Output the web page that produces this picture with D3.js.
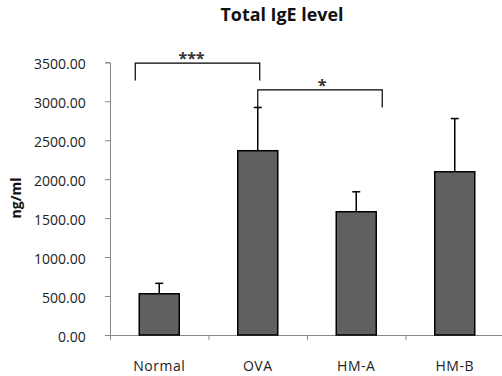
<!DOCTYPE html>
<html><head><meta charset="utf-8">
<script src="https://cdn.jsdelivr.net/npm/d3@7"></script>
<style>body{margin:0;background:#fff}svg{display:block}text{font-family:"Open Sans","Noto Sans",sans-serif}</style>
</head><body><svg id="c" width="502" height="376"></svg>
<script>
const categories = ["Normal","OVA","HM-A","HM-B"];
const means = [529, 2365, 1582, 2095];
const errors = [134, 555, 256, 683];
const yTicks = [0,500,1000,1500,2000,2500,3000,3500];
const brackets = [
  {from:"Normal", to:"OVA", top:3490, leg:3265, label:"***"},
  {from:"OVA", to:"HM-A", top:3145, leg:2920, label:"*"}
];

const svg = d3.select("#c");
const x = d3.scaleBand().domain(categories).range([110,504]).paddingInner(0).paddingOuter(0);
const y = d3.scaleLinear().domain([0,3500]).range([335,62.3]);
const bw = 40;
const FONT = "'Open Sans','Noto Sans',sans-serif";

const title = svg.append("text").attr("x",282).attr("y",21).attr("text-anchor","middle")
  .attr("font-size",16).attr("font-weight","bold").attr("fill","#111").text("Total IgE level");
const tl = title.node().getComputedTextLength();
title.attr("font-size", 16*123/tl);

// axes
const ya = svg.append("g").attr("transform","translate(110,0)")
  .call(d3.axisLeft(y).tickValues(yTicks).tickSize(5).tickPadding(5).tickFormat(d3.format(".2f")));
ya.select(".domain").attr("stroke","#888");
ya.selectAll(".tick line").attr("stroke","#888");
ya.selectAll("text").attr("font-size",14).attr("fill","#222")
  .attr("font-family",FONT).attr("x",-24.3).attr("dy",0).attr("y",6.6);

const xa = svg.append("g").attr("transform","translate(0,335)")
  .call(d3.axisBottom(x).tickSize(0));
xa.select(".domain").attr("stroke","#888");
xa.selectAll("text").attr("font-size",14).attr("fill","#222").attr("letter-spacing",0.5)
  .attr("font-family",FONT).attr("dy",0).attr("y",36);
// boundary ticks
const bounds = categories.map(c=>x(c));
xa.selectAll(".bt").data(bounds).enter().append("line").attr("class","bt")
  .attr("x1",d=>d+0.5).attr("x2",d=>d+0.5).attr("y1",0).attr("y2",5).attr("stroke","#888");

svg.append("text").attr("transform","translate(21,198) rotate(-90)").attr("text-anchor","middle")
  .attr("font-size",14).attr("font-weight","bold").attr("fill","#111").text("ng/ml");

// error bars
const eb = svg.append("g");
categories.forEach((c,i)=>{
  const cx = x(c)+x.bandwidth()/2;
  eb.append("line").attr("x1",cx).attr("x2",cx).attr("y1",y(means[i])).attr("y2",y(means[i]+errors[i]))
    .attr("stroke","#000").attr("stroke-width",1.5);
  eb.append("line").attr("x1",cx-4).attr("x2",cx+4).attr("y1",y(means[i]+errors[i])).attr("y2",y(means[i]+errors[i]))
    .attr("stroke","#000").attr("stroke-width",1.5);
});
// bars
svg.append("g").selectAll("rect").data(categories).enter().append("rect")
  .attr("x",c=>x(c)+x.bandwidth()/2-bw/2).attr("width",bw)
  .attr("y",(c,i)=>y(means[i])).attr("height",(c,i)=>y(0)-y(means[i]))
  .attr("fill","#606060").attr("stroke","#000").attr("stroke-width",1.5);

// significance brackets
const bg = svg.append("g");
const offs = [[-24,2],[0,26]];
brackets.forEach((b,i)=>{
  const x1 = x(b.from)+x.bandwidth()/2+offs[i][0];
  const x2 = x(b.to)+x.bandwidth()/2+offs[i][1];
  bg.append("path").attr("d",`M${x1},${y(b.leg)}V${y(b.top)}H${x2}V${y(b.leg)}`)
    .attr("fill","none").attr("stroke","#000").attr("stroke-width",1.2);
  bg.append("text").attr("x",(x1+x2)/2-(i===0?6:-2)).attr("y",y(b.top)+1).attr("text-anchor","middle")
    .attr("font-size",16).attr("font-weight","bold").attr("fill","#333").text(b.label);
});
</script></body></html>
